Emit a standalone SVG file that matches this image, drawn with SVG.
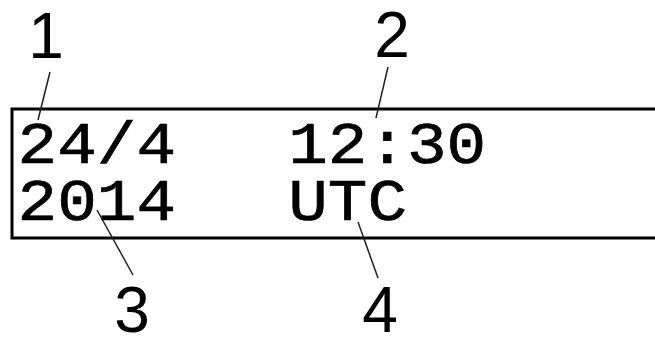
<svg xmlns="http://www.w3.org/2000/svg" width="655" height="339" viewBox="0 0 655 339">
<style>
.lcd{font-family:"Liberation Mono","DejaVu Sans Mono",monospace;font-size:60px;fill:#000;stroke:#000;stroke-width:0.7}
.num{font-family:"Liberation Sans",Arial,sans-serif;font-size:64px;fill:#000;text-anchor:middle}
.lead{stroke:#222;stroke-width:1.5;fill:none}
</style>
<rect width="655" height="339" fill="#fff"/>
<g id="display">
<rect x="12" y="109" width="660" height="129" fill="none" stroke="#000" stroke-width="3"/>
<g transform="scale(1.1,1)">
<text class="lcd" x="16" y="163">24/4</text>
<text class="lcd" x="262" y="163">12:30</text>
<text class="lcd" x="16" y="220">2014</text>
<text class="lcd" x="262" y="220">UTC</text>
</g>
</g>
<g id="connectors">
<line class="lead" x1="50" y1="72" x2="38" y2="120"/>
<line class="lead" x1="388" y1="67" x2="376" y2="118"/>
<line class="lead" x1="97" y1="210" x2="133" y2="275"/>
<line class="lead" x1="358" y1="222" x2="378" y2="278"/>
</g>
<g id="label1"><text class="num" x="46" y="58">1</text></g>
<g id="label2"><text class="num" x="392" y="57">2</text></g>
<g id="label3"><text class="num" x="132" y="332">3</text></g>
<g id="label4"><text class="num" x="380" y="332">4</text></g>
</svg>
